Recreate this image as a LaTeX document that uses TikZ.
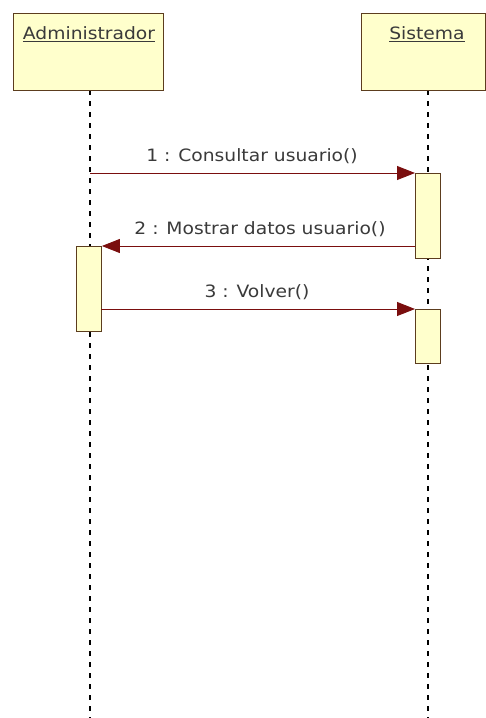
\documentclass[tikz,border=0pt]{standalone}
\usepackage{fontspec}
\setmainfont[FakeStretch=1.1]{DejaVu Sans}
\usetikzlibrary{arrows.meta}
\definecolor{boxfill}{HTML}{FFFFCC}
\definecolor{boxline}{HTML}{5C3D1E}
\definecolor{msgline}{HTML}{7A0E0E}
\definecolor{txt}{HTML}{3A3A3A}
\newcommand{\objlabel}[1]{\underline{#1}}
\begin{document}
\begin{tikzpicture}[x=1pt,y=-1pt,
  objbox/.style={draw=boxline,fill=boxfill,line width=1pt},
  actbox/.style={draw=boxline,fill=boxfill,line width=0.9pt},
  lifeline/.style={line width=1.2pt,dash pattern=on 5pt off 6pt},
  msg/.style={draw=msgline,line width=0.9pt,-{Triangle[length=18pt,width=14pt,fill=msgline]}},
  lbl/.style={text=txt,font=\fontsize{17}{19}\selectfont,inner sep=0pt},
  objname/.style={text=txt,font=\fontsize{17}{19}\selectfont,inner sep=1pt}]
\useasboundingbox (0,0) rectangle (486,718);
\fill[white] (0,0) rectangle (486,718);

% lifelines
\coordinate (aTop) at (90,90);
\coordinate (aBot) at (90,718);
\coordinate (sTop) at (428,90);
\coordinate (sBot) at (428,718);
\draw[lifeline] (aTop) -- (aBot);
\draw[lifeline] (sTop) -- (sBot);

% participant boxes
\draw[objbox] (13,13) rectangle (163,90);
\node[objname] (admin) at (89,34) {\objlabel{Administrador}};
\draw[objbox] (361,13) rectangle (485,90);
\node[objname] (sys) at (427,34) {\objlabel{Sistema}};

% activation bars
\node[actbox,minimum width=25pt,minimum height=85pt,inner sep=0pt,anchor=north west] (s1) at (415,173) {};
\node[actbox,minimum width=25pt,minimum height=85pt,inner sep=0pt,anchor=north west] (a1) at (76,246) {};
\node[actbox,minimum width=25pt,minimum height=54pt,inner sep=0pt,anchor=north west] (s2) at (415,309) {};

% messages
\coordinate (m1s) at (90,173);
\draw[msg] (m1s) -- (s1.north west);
\node[lbl] (l1) at (252,156) {1 : Consultar usuario()};

\coordinate (m2s) at (415,246);
\draw[msg] (m2s) -- (a1.north east);
\node[lbl] (l2) at (260,229) {2 : Mostrar datos usuario()};

\coordinate (m3s) at (101,309);
\draw[msg] (m3s) -- (s2.north west);
\node[lbl] (l3) at (257,292) {3 : Volver()};
\end{tikzpicture}
\end{document}
